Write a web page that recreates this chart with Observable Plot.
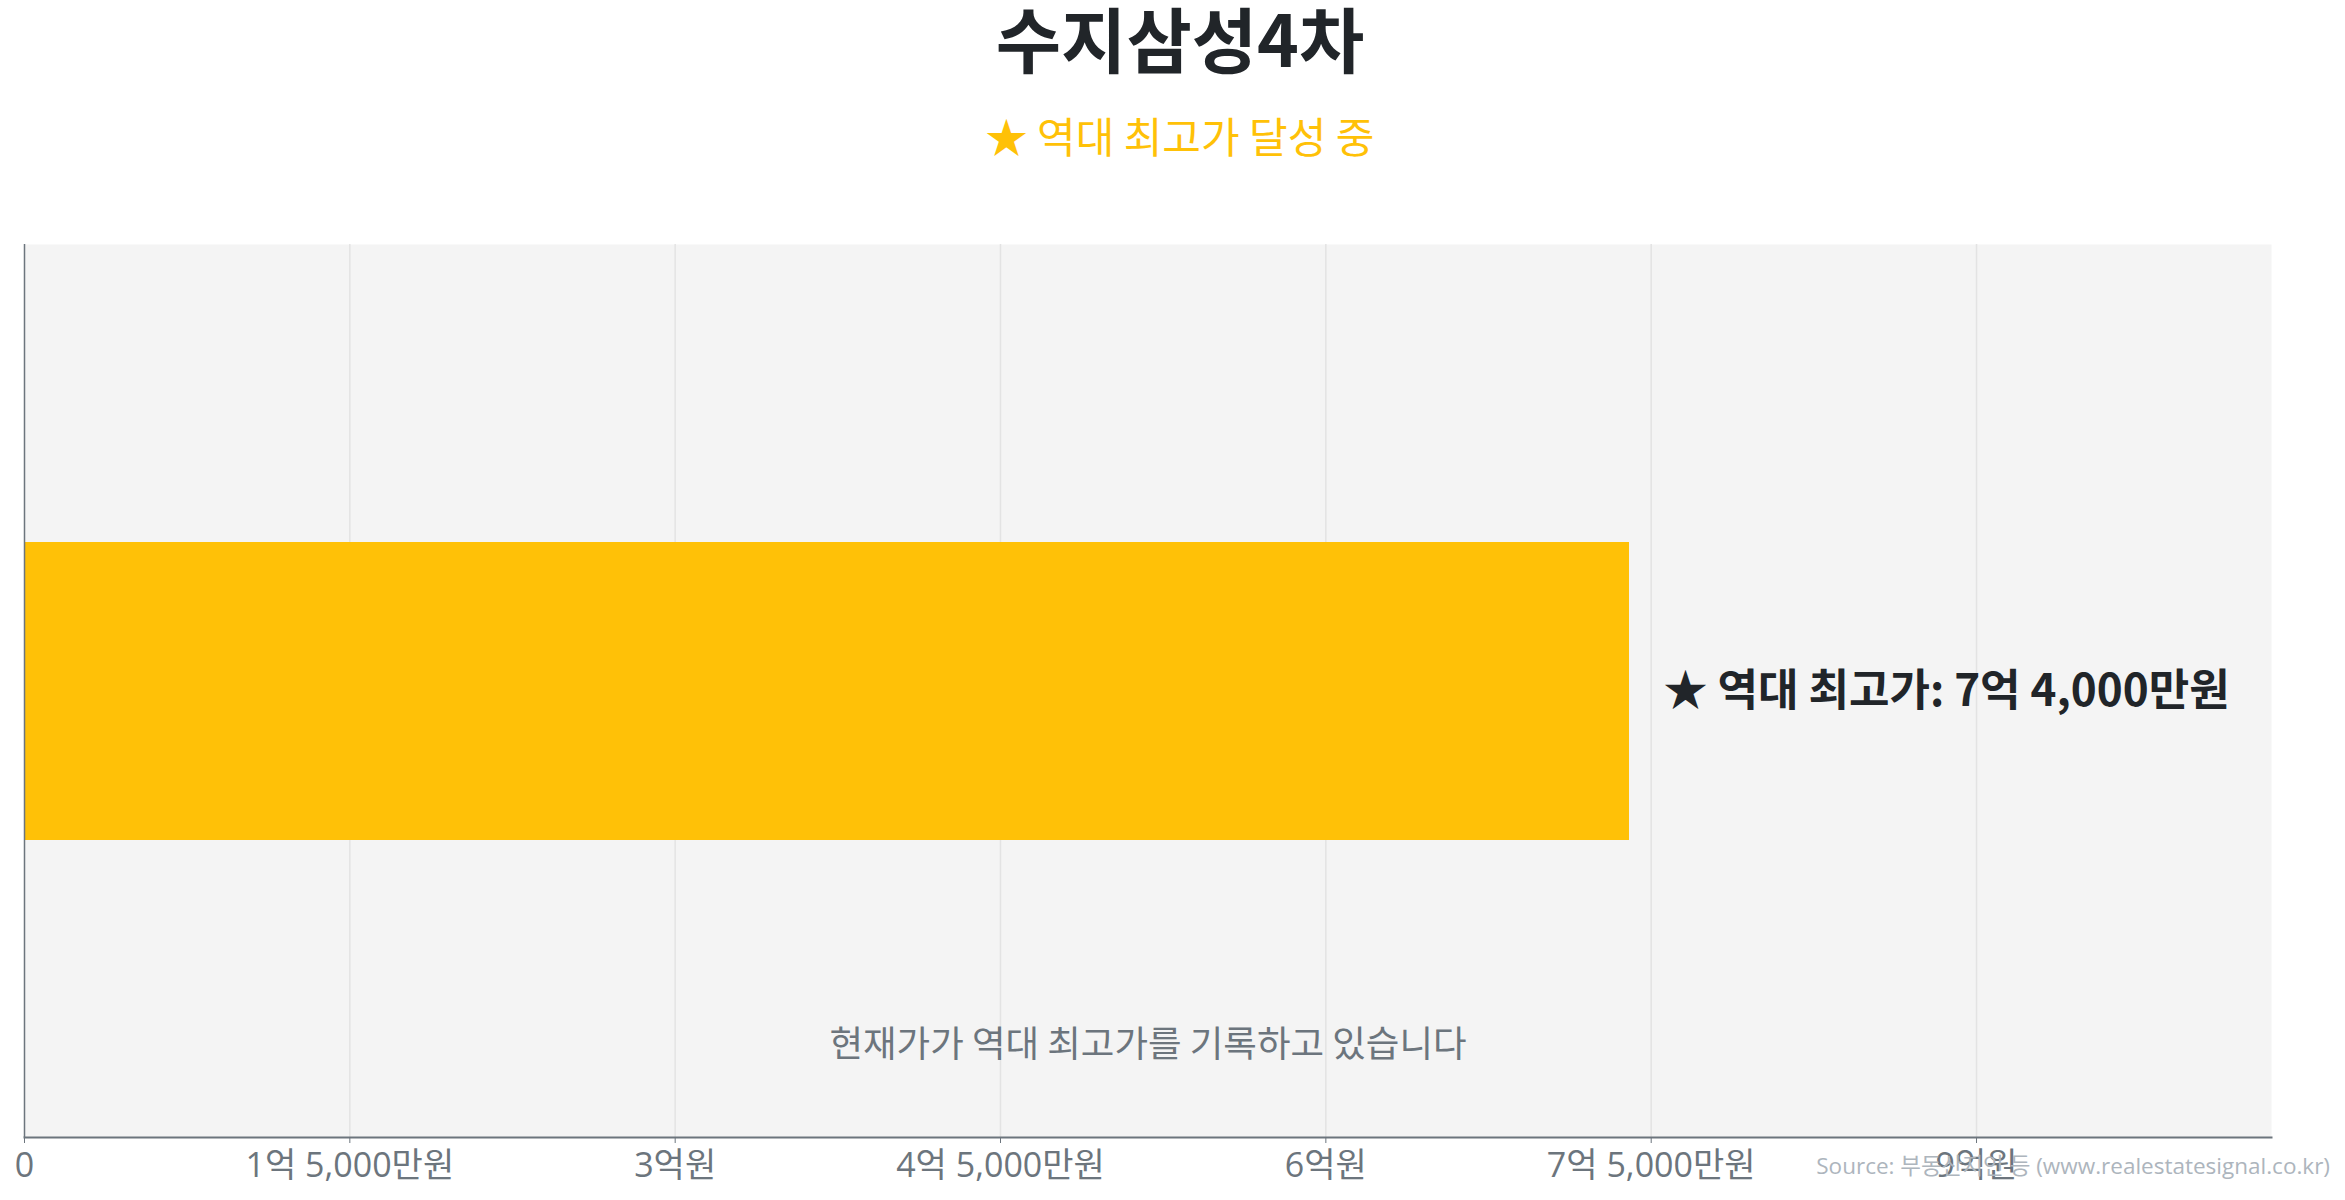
<!DOCTYPE html>
<html>
<head>
<meta charset="utf-8">
<script src="https://cdn.jsdelivr.net/npm/d3@7"></script>
<script src="https://cdn.jsdelivr.net/npm/@observablehq/plot@0.6"></script>
<style>
  html, body { margin: 0; padding: 0; background: #ffffff; }
  #page { position: relative; width: 2345px; height: 1200px; overflow: hidden; }
  .title { position: absolute; left: 15px; width: 2330px; text-align: center; white-space: nowrap; }
  #title { top: 1px; font: bold 71px/71px "Noto Sans CJK KR", sans-serif; color: #212529; }
  #subtitle { top: 114px; font: 42px/42px "Noto Sans CJK KR", sans-serif; color: #FFC107; }
  #chart { position: absolute; left: 0; top: 180px; }
  #source { position: absolute; right: 15px; top: 1155px; font: 22.5px/22.5px "Open Sans", "Noto Sans CJK KR", sans-serif; color: #adb5bd; white-space: nowrap; }
</style>
</head>
<body>
<div id="page">
  <div id="title" class="title"></div>
  <div id="subtitle" class="title"></div>
  <div id="chart"></div>
  <div id="source"></div>
</div>
<script>
// ---- data ----
const titleText = "수지삼성4차";
const subtitleText = "★ 역대 최고가 달성 중";
const categories = ["수지삼성4차"];
const values = [74000]; // 단위: 만원 (7억 4,000만원)
const barLabels = ["★ 역대 최고가: 7억 4,000만원"];
const noteText = ["현재가가 역대 최고가를 기록하고 있습니다"];
const xMax = 103600; // 최고가 × 1.4
const tickValues = [0, 15000, 30000, 45000, 60000, 75000, 90000];
const tickLabels = ["0", "1억 5,000만원", "3억원", "4억 5,000만원", "6억원", "7억 5,000만원", "9억원"];
const sourceText = "Source: 부동산지인 등 (www.realestatesignal.co.kr)";

document.getElementById("title").textContent = titleText;
document.getElementById("subtitle").textContent = subtitleText;
document.getElementById("source").textContent = sourceText;

const data = categories.map((c, i) => ({name: c, value: values[i], label: barLabels[i]}));
const tickFormat = v => { const i = tickValues.indexOf(v); return i >= 0 ? tickLabels[i] : ""; };

const chart = Plot.plot({
  width: 2345,
  height: 1020,
  marginTop: 64,
  marginBottom: 63,
  marginLeft: 24,
  marginRight: 74,
  style: {fontFamily: '"Open Sans", "Noto Sans CJK KR", sans-serif', background: "transparent", overflow: "visible"},
  x: {domain: [0, xMax]},
  y: {domain: categories, padding: 0.5, axis: null},
  marks: [
    Plot.frame({fill: "#f4f4f4", stroke: "none"}),
    Plot.gridX(tickValues.slice(1), {stroke: "#e3e3e3", strokeOpacity: 1, strokeWidth: 1.5}),
    Plot.barX(data, {x: "value", y: "name", fill: "#FFC107"}),
    Plot.text(data, {x: "value", y: "name", text: "label", textAnchor: "start", dx: 34,
      fontSize: 44, fontWeight: "bold", fill: "#212529", fontFamily: '"Noto Sans CJK KR", sans-serif'}),
    Plot.text(noteText, {x: () => xMax / 2, text: d => d, frameAnchor: "bottom", dy: -81,
      fontSize: 36.5, fill: "#6c757d", fontFamily: '"Noto Sans CJK KR", sans-serif'}),
    Plot.ruleX([0], {stroke: "#6c757d", strokeWidth: 1.5}),
    Plot.frame({anchor: "bottom", stroke: "#6c757d", strokeWidth: 2}),
    Plot.axisX({ticks: tickValues, tickFormat, tickSize: 6, tickPadding: 9, fontSize: 34,
      color: "#6c757d", label: null})
  ]
});
document.getElementById("chart").appendChild(chart);
</script>
</body>
</html>
